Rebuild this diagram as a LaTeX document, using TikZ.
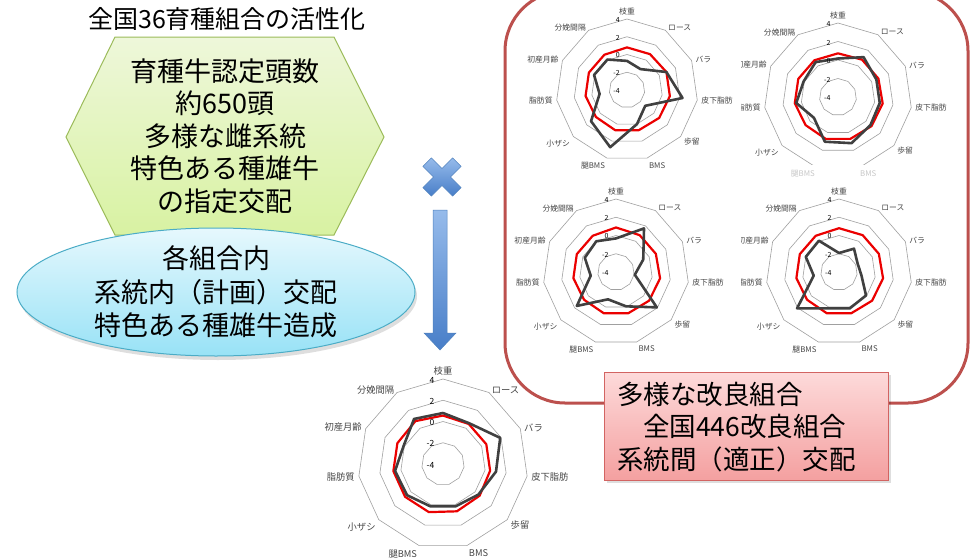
\documentclass[tikz,border=0pt]{standalone}
\usepackage{fontspec}
\setmainfont{Noto Sans CJK JP}
\usetikzlibrary{calc}
\definecolor{hexborder}{RGB}{155,187,89}
\definecolor{hextop}{RGB}{238,247,218}
\definecolor{hexbot}{RGB}{216,242,162}
\definecolor{ellborder}{RGB}{75,172,198}
\definecolor{elltop}{RGB}{230,248,253}
\definecolor{ellbot}{RGB}{152,226,246}
\definecolor{bluetop}{RGB}{150,187,235}
\definecolor{bluebot}{RGB}{72,126,200}
\definecolor{blueborder}{RGB}{79,129,189}
\definecolor{frameRed}{RGB}{188,80,77}
\definecolor{boxborder}{RGB}{210,100,98}
\definecolor{boxtop}{RGB}{253,218,218}
\definecolor{boxbot}{RGB}{244,160,160}
\definecolor{gridgray}{RGB}{160,160,160}
\definecolor{seriesgray}{RGB}{64,64,64}
\definecolor{seriesred}{RGB}{235,0,0}
\definecolor{labelgray}{RGB}{70,70,70}
\tikzset{
  gridline/.style={draw=gridgray, line width=0.6pt},
  grayseries/.style={draw=seriesgray, line width=2.6pt, line join=round},
  redseries/.style={draw=seriesred, line width=2.2pt, line join=round},
  axlabel/.style={text=labelgray, inner sep=1pt},
  vallabel/.style={text=black, inner sep=0pt, anchor=east},
  bigtext/.style={align=center, inner sep=0pt, font=\fontsize{27}{32.5}\selectfont},
  titletext/.style={inner sep=0pt, font=\fontsize{25}{30}\selectfont},
  hexshape/.style={draw=hexborder, line width=1pt, top color=hextop, bottom color=hexbot},
  ellshape/.style={draw=ellborder, line width=1pt, top color=elltop, bottom color=ellbot},
  bluegrad/.style={draw=blueborder, line width=0.5pt, top color=bluetop, bottom color=bluebot},
  frameline/.style={draw=frameRed, line width=3pt, rounded corners=60pt},
  boxshape/.style={draw=boxborder, line width=1pt, top color=boxtop, bottom color=boxbot},
  shadowfill/.style={fill=black, opacity=0.13},
}
% #1 cx, #2 cy, #3 R, #4 gray fractions, #5 red fractions, #6 label size, #7 value size
\newcommand\radarchart[7]{%
\begin{scope}[shift={(#1,#2)},y=1pt]
  \foreach \k in {1,...,4}{
    \draw[gridline] (90:{#3*\k/4}) \foreach \i in {1,...,10}{ -- ({90-\i*360/11}:{#3*\k/4}) } -- cycle;
  }
  \foreach \f [count=\i from 0] in {#5} \coordinate (rp\i) at ({90-\i*360/11}:{#3*\f});
  \draw[redseries] (rp0) \foreach \i in {1,...,10}{ -- (rp\i) } -- cycle;
  \foreach \f [count=\i from 0] in {#4} \coordinate (gp\i) at ({90-\i*360/11}:{#3*\f});
  \draw[grayseries] (gp0) \foreach \i in {1,...,10}{ -- (gp\i) } -- cycle;
  \foreach \v [count=\k from 0] in {-4,-2,0,2,4}
    \node[vallabel, font=\fontsize{#7}{#7}\selectfont] (val\k) at ({-0.1*#3},{#3*\k/4-1}) {\v};
  \foreach \lab/\anc [count=\i from 0] in {枝重/south, ロース/west, バラ/west, 皮下脂肪/west, 歩留/160, BMS/north west, 腿BMS/north east, 小ザシ/20, 脂肪質/east, 初産月齢/east, 分娩間隔/east}
    \node[axlabel, anchor=\anc, font=\fontsize{#6}{#6}\selectfont] (lab\i) at ({90-(\i)*360/11}:{#3+3}) {\lab};
\end{scope}}

\begin{document}
\begin{tikzpicture}[x=1pt,y=-1pt]
\useasboundingbox (0,0) rectangle (977,557);

% title
\node[titletext] (title) at (227,19) {全国36育種組合の活性化};

% hexagon
\path[hexshape] (66,137) -- (115,37) -- (334,37) -- (384,137) -- (334,235) -- (115,235) -- cycle;
\node[bigtext] (hexText) at (225,136) {育種牛認定頭数\\約650頭\\多様な雌系統\\特色ある種雄牛\\の指定交配};

% ellipse
\fill[shadowfill] (218,296) ellipse [x radius=199, y radius=64];
\path[ellshape] (216,292) ellipse [x radius=199, y radius=64];
\node[bigtext, font=\fontsize{27}{33.5}\selectfont] (ellText) at (216,292) {各組合内\\系統内（計画）交配\\特色ある種雄牛造成};

% blue cross
\begin{scope}[shift={(442,177)}]
\path[bluegrad] (0,8.49) -- (-10.61,19.09) -- (-19.09,10.61) -- (-8.49,0) -- (-19.09,-10.61) -- (-10.61,-19.09) -- (0,-8.49) -- (10.61,-19.09) -- (19.09,-10.61) -- (8.49,0) -- (19.09,10.61) -- (10.61,19.09) -- cycle;
\end{scope}
\coordinate (crossC) at (442,177);

% blue down arrow
\path[bluegrad] (433,210) -- (447,210) -- (447,333) -- (456,333) -- (440,350) -- (424,333) -- (433,333) -- cycle;

% big frame
\path[frameline, fill=white] (505,-9) rectangle (968,403);

% chart 1
\begin{scope}
\clip (506,0) rectangle (732,178);
\radarchart{627}{90}{71}{0.41,0.35,0.61,0.79,0.34,0.50,0.84,0.67,0.39,0.51,0.51}{0.60,0.60,0.61,0.61,0.60,0.59,0.59,0.58,0.59,0.59,0.59}{7.8}{7}
\end{scope}
% chart 2
\begin{scope}
\clip (741,0) rectangle (966,164);
\radarchart{838}{97}{74}{0.52,0.64,0.57,0.57,0.58,0.65,0.63,0.43,0.57,0.51,0.56}{0.59,0.60,0.60,0.61,0.60,0.59,0.59,0.58,0.59,0.59,0.59}{7.8}{7}
\end{scope}
\node[axlabel, text=labelgray!30, anchor=north west, font=\fontsize{7.8}{7.8}\selectfont] (c2bms) at (859,169) {BMS};
\node[axlabel, text=labelgray!30, anchor=north east, font=\fontsize{7.8}{7.8}\selectfont] (c2tbms) at (816,169) {腿BMS};
% chart 3
\begin{scope}
\clip (506,178) rectangle (730,356);
\radarchart{616}{272}{73}{0.46,0.71,0.41,0.26,0.74,0.49,0.39,0.71,0.35,0.47,0.50}{0.61,0.60,0.60,0.61,0.60,0.59,0.59,0.58,0.59,0.59,0.59}{7.8}{7}
\end{scope}
% chart 4
\begin{scope}
\clip (741,178) rectangle (966,356);
\radarchart{839}{272}{73}{0.26,0.38,0.28,0.31,0.49,0.52,0.52,0.76,0.35,0.50,0.51}{0.60,0.60,0.60,0.61,0.60,0.59,0.59,0.58,0.59,0.59,0.59}{7.8}{7}
\end{scope}
% chart 5
\radarchart{443}{464}{85}{0.60,0.57,0.74,0.63,0.55,0.52,0.52,0.56,0.57,0.51,0.63}{0.57,0.56,0.56,0.56,0.57,0.58,0.59,0.59,0.59,0.59,0.60}{9.3}{8.5}

% red box
\fill[shadowfill] (607,375) rectangle (891,483);
\path[boxshape] (604,372) rectangle (888,480);
\node[inner sep=0pt, align=left, anchor=west, font=\fontsize{26.5}{32.5}\selectfont] (boxText) at (617,427) {多様な改良組合\\\hspace*{26pt}全国446改良組合\\系統間（適正）交配};
\end{tikzpicture}
\end{document}
